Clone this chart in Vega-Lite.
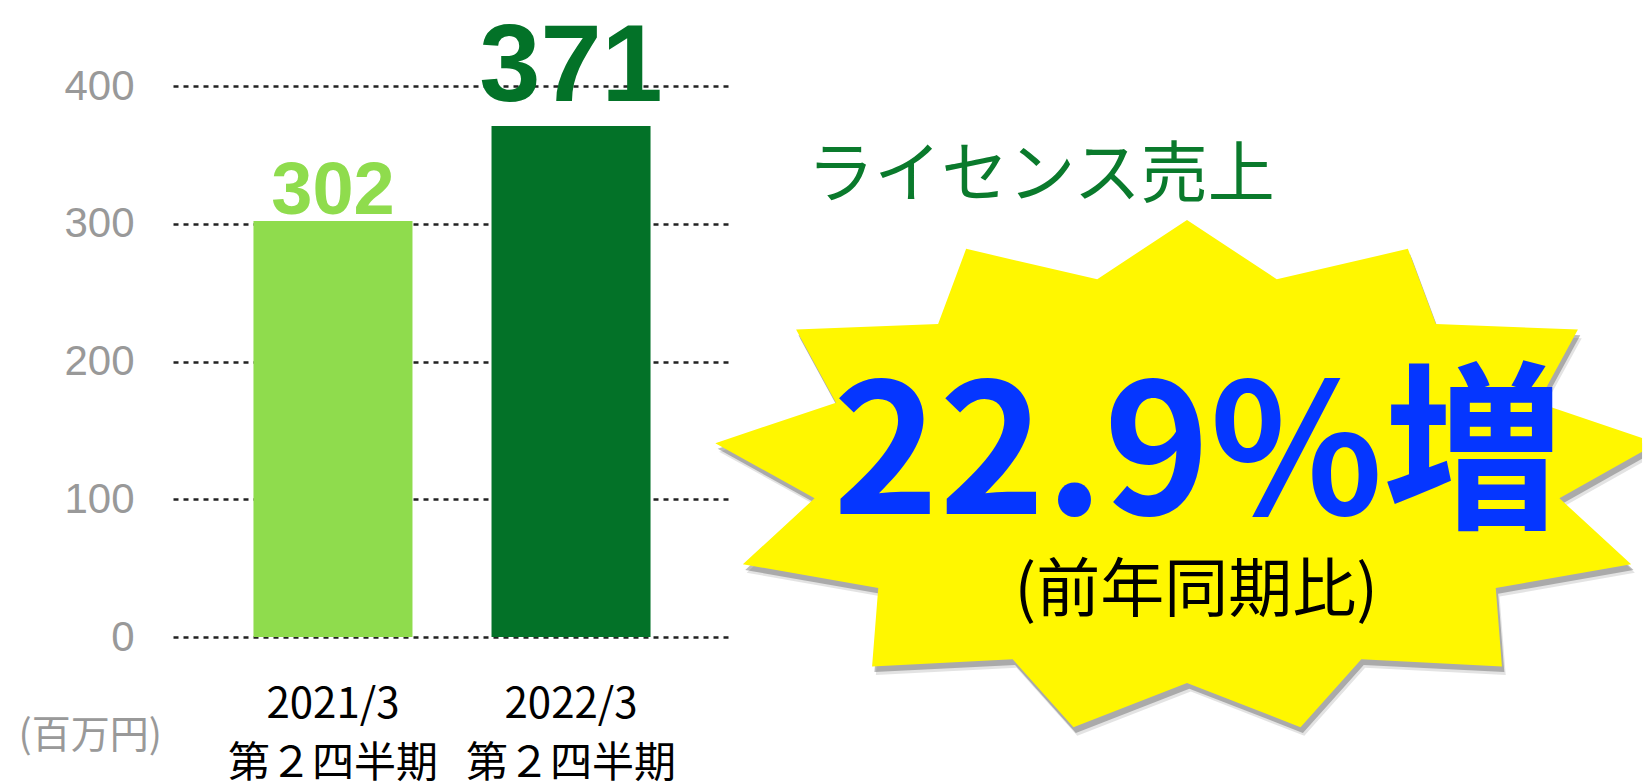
{
  "$schema": "https://vega.github.io/schema/vega-lite/v6.json",
  "padding": {"left": 18, "top": 12, "right": 0, "bottom": 0},
  "bounds": "flush",
  "spacing": 0,
  "config": {"view": {"stroke": null}},
  "hconcat": [
    {
      "width": 558,
      "height": 551,
      "data": {"values": [
        {"period": "2021/3 第２四半期", "sales": 302},
        {"period": "2022/3 第２四半期", "sales": 371}
      ]},
      "encoding": {
        "x": {
          "field": "period", "type": "nominal", "sort": null,
          "scale": {"paddingInner": 0.332, "paddingOuter": 0.338},
          "axis": {
            "title": null, "labelAngle": 0, "domain": false, "ticks": false, "tickSize": 0,
            "labelExpr": "split(datum.label, ' ')", "labelLimit": 400,
            "labelFont": "Noto Sans CJK JP", "labelFontSize": 42, "labelColor": "#000000",
            "labelLineHeight": 59, "labelPadding": 47, "grid": false
          }
        },
        "y": {
          "field": "sales", "type": "quantitative",
          "scale": {"domain": [0, 400], "nice": false},
          "axis": {
            "values": [0, 100, 200, 300, 400],
            "title": "(百万円)", "titleAngle": 0, "titleX": -155, "titleY": 649,
            "titleAlign": "left", "titleBaseline": "middle",
            "titleFont": "Noto Sans CJK JP", "titleFontSize": 39, "titleFontWeight": "normal", "titleColor": "#999999",
            "domain": false, "ticks": false, "tickSize": 0, "labelPadding": 39,
            "labelFont": "Liberation Sans", "labelFontSize": 42, "labelColor": "#999999",
            "grid": true, "gridColor": "#222222", "gridDash": [5, 5], "gridWidth": 2.5
          }
        },
        "color": {
          "field": "period", "type": "nominal", "sort": null,
          "scale": {"range": ["#8fdc4d", "#037228"]}, "legend": null
        }
      },
      "layer": [
        {"mark": {"type": "bar"}},
        {
          "transform": [{"filter": {"field": "period", "equal": "2021/3 第２四半期"}}],
          "mark": {"type": "text", "baseline": "alphabetic", "align": "center", "dy": -7, "fontSize": 74, "font": "Liberation Sans", "fontWeight": "bold"},
          "encoding": {"text": {"field": "sales", "type": "quantitative"}}
        },
        {
          "transform": [{"filter": {"field": "period", "equal": "2022/3 第２四半期"}}],
          "mark": {"type": "text", "baseline": "alphabetic", "align": "center", "dy": -25, "fontSize": 110, "font": "Liberation Sans", "fontWeight": "bold"},
          "encoding": {"text": {"field": "sales", "type": "quantitative"}}
        }
      ]
    },
    {
      "width": 912,
      "height": 660,
      "data": {"values": [
        {"item": "star", "x": 50.0, "y": 41.21},
        {"item": "heading", "text": "ライセンス売上", "x": 33.99, "y": 83.18},
        {"item": "growth", "text": "22.9%増", "x": 51.2, "y": 35.1},
        {"item": "basis", "text": "(前年同期比)", "x": 51.0, "y": 20.5}
      ]},
      "encoding": {
        "x": {"field": "x", "type": "quantitative", "scale": {"domain": [0, 100], "nice": false, "zero": false}, "axis": null},
        "y": {"field": "y", "type": "quantitative", "scale": {"domain": [0, 100], "nice": false, "zero": false}, "axis": null}
      },
      "layer": [
        {
          "transform": [{"filter": {"field": "item", "equal": "star"}}],
          "mark": {"type": "point", "filled": true, "color": "#444444", "opacity": 0.15, "size": 902500,
            "shape": "M0.008,-0.517L0.197,-0.392L0.473,-0.456L0.532,-0.298L0.831,-0.286L0.747,-0.132L0.958,-0.061L0.958,-0.024L0.792,0.069L0.943,0.208L0.658,0.258L0.671,0.423L0.375,0.408L0.247,0.551L0.008,0.458L-0.231,0.551L-0.359,0.408L-0.655,0.423L-0.642,0.258L-0.927,0.208L-0.776,0.069L-0.985,-0.047L-0.731,-0.132L-0.815,-0.286L-0.516,-0.298L-0.457,-0.456L-0.181,-0.392Z"}
        },
        {
          "transform": [{"filter": {"field": "item", "equal": "star"}}],
          "mark": {"type": "point", "filled": true, "color": "#555555", "opacity": 0.4, "size": 902500,
            "shape": "M0.005,-0.523L0.194,-0.398L0.47,-0.462L0.529,-0.304L0.828,-0.292L0.744,-0.138L0.958,-0.066L0.958,-0.032L0.789,0.063L0.94,0.202L0.655,0.252L0.668,0.417L0.372,0.402L0.244,0.545L0.005,0.452L-0.234,0.545L-0.362,0.402L-0.658,0.417L-0.645,0.252L-0.93,0.202L-0.779,0.063L-0.988,-0.053L-0.734,-0.138L-0.818,-0.292L-0.519,-0.304L-0.46,-0.462L-0.184,-0.398Z"}
        },
        {
          "transform": [{"filter": {"field": "item", "equal": "star"}}],
          "mark": {"type": "point", "filled": true, "color": "#fff700", "opacity": 1, "size": 902500,
            "shape": "M0,-0.535L0.189,-0.41L0.465,-0.474L0.524,-0.316L0.823,-0.304L0.739,-0.15L0.958,-0.076L0.958,-0.047L0.784,0.051L0.935,0.19L0.65,0.24L0.663,0.405L0.367,0.39L0.239,0.533L0,0.44L-0.239,0.533L-0.367,0.39L-0.663,0.405L-0.65,0.24L-0.935,0.19L-0.784,0.051L-0.993,-0.065L-0.739,-0.15L-0.823,-0.304L-0.524,-0.316L-0.465,-0.474L-0.189,-0.41Z"}
        },
        {
          "transform": [{"filter": {"field": "item", "equal": "heading"}}],
          "mark": {"type": "text", "baseline": "alphabetic", "align": "center", "font": "Noto Sans CJK JP", "fontSize": 67, "fontWeight": "normal", "color": "#0a7a2c"},
          "encoding": {"text": {"field": "text", "type": "nominal"}}
        },
        {
          "transform": [{"filter": {"field": "item", "equal": "growth"}}],
          "mark": {"type": "text", "baseline": "alphabetic", "align": "center", "font": "Noto Sans CJK JP", "fontSize": 180, "fontWeight": "bold", "color": "#0536ff"},
          "encoding": {"text": {"field": "text", "type": "nominal"}}
        },
        {
          "transform": [{"filter": {"field": "item", "equal": "basis"}}],
          "mark": {"type": "text", "baseline": "alphabetic", "align": "center", "font": "Noto Sans CJK JP", "fontSize": 64, "fontWeight": "normal", "color": "#000000"},
          "encoding": {"text": {"field": "text", "type": "nominal"}}
        }
      ]
    }
  ]
}
